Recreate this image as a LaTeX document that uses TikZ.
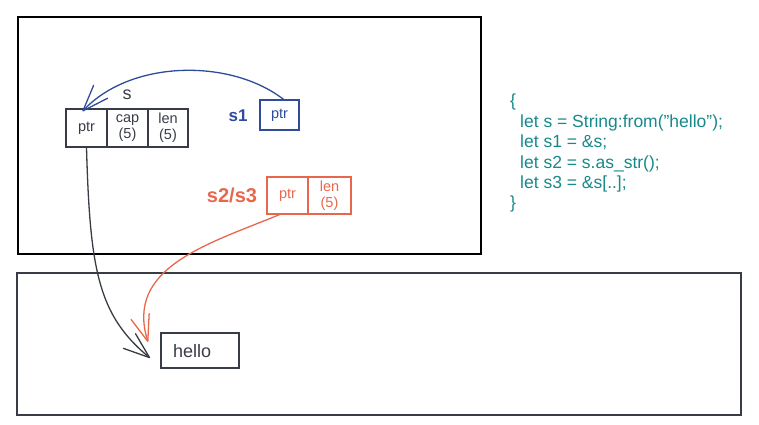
\documentclass[tikz,border=0pt]{standalone}
\usepackage{fontspec}
\setmainfont{Liberation Sans}
\usetikzlibrary{arrows.meta}

\definecolor{inkdark}{HTML}{383D45}
\definecolor{inkblue}{HTML}{2E4C9A}
\definecolor{inkred}{HTML}{E8674C}
\definecolor{inkteal}{HTML}{17898A}

\begin{document}
\begin{tikzpicture}[x=1pt,y=-1pt]
  \tikzstyle{every node}+=[inner sep=0pt]
  \tikzstyle{cell}=[draw, line width=1.3pt, align=center, font=\fontsize{14.5}{16}\selectfont]
  \tikzset{barb/.style={-{Straight Barb[length=26pt,width=19pt,round]}, line width=1.3pt}}
  \useasboundingbox (0,0) rectangle (759,424);
  % stack frame and heap
  \draw [black, line width=1.4pt] (18,17) rectangle (481,254);
  \draw [inkdark, line width=1.2pt] (17,273) rectangle (741,415);
  % s : String
  \node [cell, inkdark, minimum width=41pt, minimum height=38pt] (sptr) at (86.5,128) {ptr};
  \node [cell, inkdark, minimum width=41pt, minimum height=38pt] (scap) at (127.5,128) {cap\\(5)};
  \node [cell, inkdark, minimum width=40pt, minimum height=38pt] (slen) at (168,128) {len\\(5)};
  \node [inkdark, font=\fontsize{18}{20}\selectfont] (slabel) at (127,95) {s};
  % s1 : &String
  \node [cell, inkblue, minimum width=39pt, minimum height=30pt] (aptr) at (279.5,115) {ptr};
  \node [inkblue, font=\fontsize{17}{19}\selectfont\bfseries] (alabel) at (238,116) {s1};
  % s2/s3 : &str
  \node [cell, inkred, minimum width=41pt, minimum height=37pt] (bptr) at (287.5,195.5) {ptr};
  \node [cell, inkred, minimum width=43pt, minimum height=37pt] (blen) at (329.5,195.5) {len\\(5)};
  \node [inkred, font=\fontsize{20}{22}\selectfont\bfseries] (blabel) at (232,195) {s2/s3};
  % heap data
  \node [draw, inkdark, line width=1.3pt, minimum width=78pt, minimum height=35pt] (hello) at (200,350.5) {};
  \node [inkdark, anchor=west, font=\fontsize{18}{20}\selectfont] (hellotext) at (173,351) {hello};
  \coordinate (helloin) at (150,358);
  \coordinate (hellotop) at (148,342);
  % code
  \node [inkteal, anchor=north west, align=left, font=\fontsize{17.5}{20.4}\selectfont] (code) at (510,94)
    {\{\\\hspace*{10pt}let s = String:from(\symbol{34}hello\symbol{34});\\\hspace*{10pt}let s1 = \&s;\\\hspace*{10pt}let s2 = s.as\_str();\\\hspace*{10pt}let s3 = \&s[..];\\\}};
  % pointers
  \draw [barb, inkblue] ([xshift=4pt]aptr.north) .. controls (230,58) and (130,60) .. ([xshift=-4pt,yshift=-3pt]sptr.north);
  \draw [barb, inkdark] (sptr.south) .. controls (90,270) and (98,315) .. (helloin);
  \draw [barb, inkred] ([xshift=-8pt]bptr.south) .. controls (205,245) and (125,268) .. (hellotop);
\end{tikzpicture}
\end{document}
